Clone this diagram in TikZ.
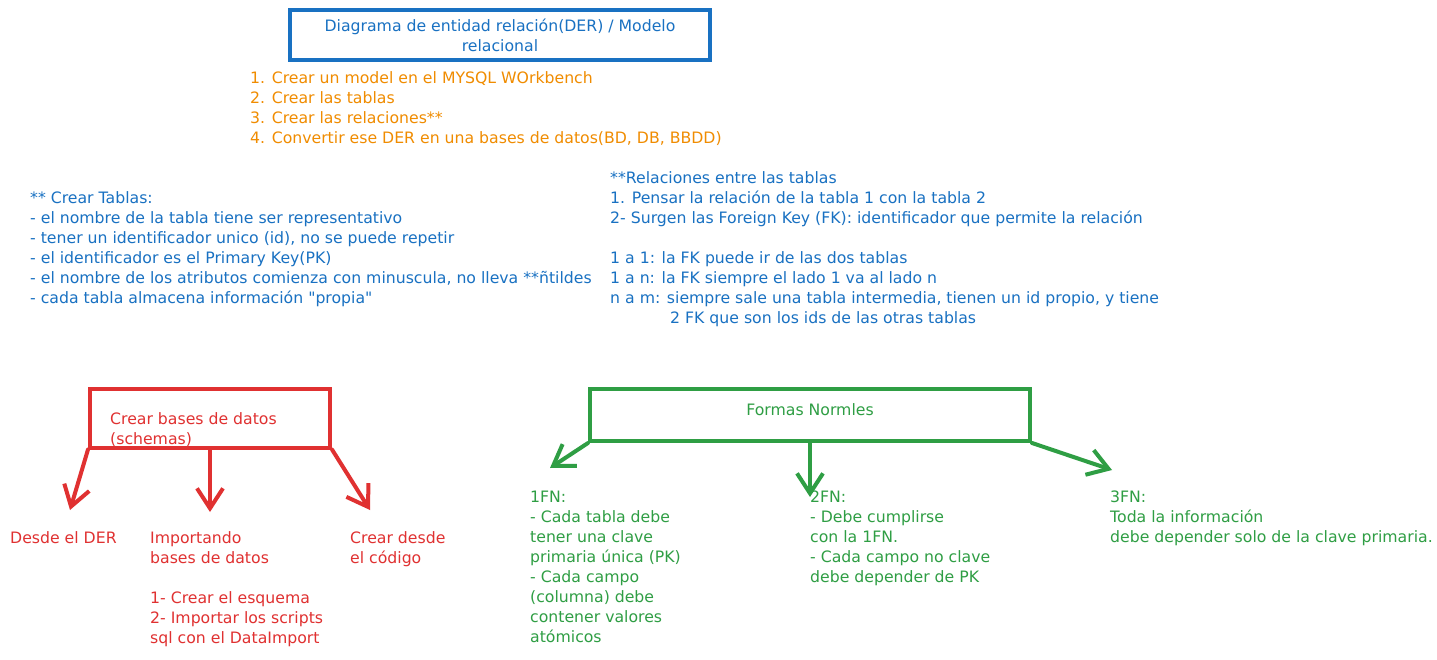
\documentclass[tikz,border=0pt]{standalone}
\usepackage{fontspec}
\setmainfont{DejaVu Sans}
\usepackage{tikz}
\usetikzlibrary{arrows.meta}

\definecolor{azul}{HTML}{1971C2}
\definecolor{naranja}{HTML}{F08C00}
\definecolor{rojo}{HTML}{E03131}
\definecolor{verde}{HTML}{2F9E44}

\tikzset{
    txt/.style={inner sep=0pt, align=left, anchor=north west, font=\fontsize{15.7}{20}\selectfont},
    caja/.style={draw, rectangle, line width=4pt, inner sep=0pt},
    flecha/.style={line width=4pt, line cap=round, line join=round, -{Straight Barb[length=20pt, width=26pt]}}
}

\begin{document}
\begin{tikzpicture}[x=1pt, y=-1pt]
                \useasboundingbox[fill=white] (0, 0) rectangle (1437, 660);

                % titulo
                \node[caja, draw=azul, text=azul, minimum width=420pt, minimum height=50pt, align=center, font=\fontsize{15.7}{20}\selectfont] (titulo) at (500, 35) {Diagrama de entidad relación(DER) / Modelo\\relacional};

                \node[txt, text=naranja] (pasos) at (250, 71) {1. Crear un model en el MYSQL WOrkbench\\2. Crear las tablas\\3. Crear las relaciones**\\4. Convertir ese DER en una bases de datos(BD, DB, BBDD)};

                \node[txt, text=azul] (tablas) at (30, 191) {** Crear Tablas:\\- el nombre de la tabla tiene ser representativo\\- tener un identificador unico (id), no se puede repetir\\- el identificador es el Primary Key(PK)\\- el nombre de los atributos comienza con minuscula, no lleva **ñtildes\\- cada tabla almacena información \textquotedbl propia\textquotedbl};

                \node[txt, text=azul] (relaciones) at (610, 171) {**Relaciones entre las tablas\\1. Pensar la relación de la tabla 1 con la tabla 2\\2- Surgen las Foreign Key (FK): identificador que permite la relación\\[20pt]1 a 1: la FK puede ir de las dos tablas\\1 a n: la FK siempre el lado 1 va al lado n\\n a m: siempre sale una tabla intermedia, tienen un id propio, y tiene\\\hspace*{60pt}2 FK que son los ids de las otras tablas};

                % bases de datos
                \node[caja, draw=rojo, minimum width=240pt, minimum height=59pt] (schema) at (210, 418) {};
                \node[txt, text=rojo] (schematxt) at (110, 412) {Crear bases de datos\\(schemas)};
                \coordinate (r1) at (70, 510);
                \coordinate (r2) at (210, 512);
                \coordinate (r3) at (370, 510);
                \draw[flecha, color=rojo] (schema.south west) -- (r1);
                \draw[flecha, color=rojo] (schema.south) -- (r2);
                \draw[flecha, color=rojo] (schema.south east) -- (r3);

                \node[txt, text=rojo] (der) at (10, 531) {Desde el DER};
                \node[txt, text=rojo] (importar) at (150, 531) {Importando\\bases de datos\\[20pt]1- Crear el esquema\\2- Importar los scripts\\sql con el DataImport};
                \node[txt, text=rojo] (codigo) at (350, 531) {Crear desde\\el código};

                % formas normales
                \node[caja, draw=verde, minimum width=440pt, minimum height=52pt] (formas) at (810, 415) {};
                \node[inner sep=0pt, text=verde, font=\fontsize{15.7}{20}\selectfont] (formastxt) at (810, 410) {Formas Normles};
                \coordinate (v1) at (550, 468);
                \coordinate (v2) at (810, 497);
                \coordinate (v3) at (1112, 470);
                \draw[flecha, color=verde] (formas.south west) -- (v1);
                \draw[flecha, color=verde] (formas.south) -- (v2);
                \draw[flecha, color=verde] (formas.south east) -- (v3);

                \node[txt, text=verde] (fn1) at (530, 491) {1FN:\\- Cada tabla debe\\tener una clave\\primaria única (PK)\\- Cada campo\\(columna) debe\\contener valores\\atómicos};
                \node[txt, text=verde] (fn2) at (810, 491) {2FN:\\- Debe cumplirse\\con la 1FN.\\- Cada campo no clave\\debe depender de PK};
                \node[txt, text=verde] (fn3) at (1110, 491) {3FN:\\Toda la información\\debe depender solo de la clave primaria.};
            \end{tikzpicture}
\end{document}
